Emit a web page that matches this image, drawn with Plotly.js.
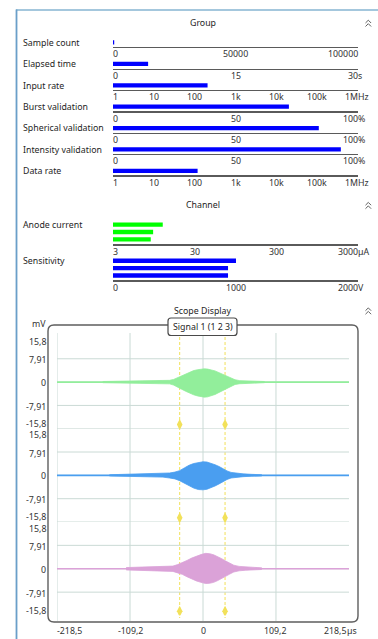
<!DOCTYPE html>
<html><head><meta charset="utf-8">
<script src="https://cdn.plot.ly/plotly-3.0.1.min.js"></script>
<style>html,body{margin:0;padding:0;background:#fff;overflow:hidden}#chart{width:378px;height:639px}</style>
</head><body><div id="chart"></div>
<script>
// ================= DATA =================
const groupTitle = 'Group';
const groupLabels = ['Sample count','Elapsed time','Input rate','Burst validation','Spherical validation','Intensity validation','Data rate'];
const groupValues = [500, 4.3, 207, 71.8, 84, 93, 118];

const countTicks = [0, 50000, 100000];
const countTickText = ['0', '50000', '100000'];
const countUnit = '';
const timeTicks = [0, 15, 30];
const timeTickText = ['0', '15', '30'];
const timeUnit = 's';
const rateTicks = [1, 10, 100, 1000, 10000, 100000, 1000000];
const rateTickText = ['1', '10', '100', '1k', '10k', '100k', '1M'];
const rateUnit = 'Hz';
const pctTicks = [0, 50, 100];
const pctTickText = ['0', '50', '100'];
const pctUnit = '%';

const channelTitle = 'Channel';
const channelLabels = ['Anode current', 'Sensitivity'];
const channelIds = ['1', '2', '3'];
const anodeValues = [12.2, 9.3, 8.7];
const anodeTicks = [3, 30, 300, 3000];
const anodeTickText = ['3', '30', '300', '3000'];
const anodeUnit = 'µA';
const sensValues = [1004, 939, 939];
const sensTicks = [0, 1000, 2000];
const sensTickText = ['0', '1000', '2000'];
const sensUnit = 'V';

const scopeTitle = 'Scope Display';
const signalName = 'Signal 1 (1 2 3)';
const yUnit = 'mV';
const timeRange = [-218.5, 218.5];
const mvRange = [-15.8, 15.8];
const scopeXTicks = [-218.5, -109.2, 0, 109.2, 218.5];
const scopeXTickText = ['-218,5', '-109,2', '0', '109,2', '218,5'];
const scopeXUnit = 'µs';
const mvTicks = [15.8, 7.91, 0, -7.91, -15.8];
const mvTickText = ['15,8', '7,91', '0', '-7,91', '-15,8'];
const cursorTimes = [-34.9, 33.0];
const cursorLevel = -14.4;

// signal envelopes (µs, mV)
const greenT =     [-150,-120,-95,-75,-60,-50,-44,-38,-32,-26,-20,-14,-8,-3,2,7,12,18,24,30,36,42,48,55,65,78,92];
const greenUpper = [0.2,0.25,0.3,0.4,0.45,0.6,0.9,1.5,2.2,2.9,3.5,3.9,4.2,4.4,4.5,4.4,4.2,3.8,3.2,2.6,1.8,1.2,0.8,0.5,0.4,0.3,0.2];
const greenLower = [-0.2,-0.25,-0.3,-0.4,-0.45,-0.6,-1.0,-1.6,-2.4,-3.1,-3.8,-4.3,-4.7,-5.0,-5.1,-5.0,-4.7,-4.2,-3.5,-2.8,-2.0,-1.3,-0.8,-0.55,-0.4,-0.3,-0.2];

const blueT =     [-140,-115,-95,-75,-60,-50,-42,-35,-28,-21,-14,-7,0,6,12,18,24,30,36,42,50,60,72,88];
const blueUpper = [0.2,0.3,0.4,0.5,0.6,0.8,1.1,1.6,2.5,3.4,4.0,4.4,4.6,4.5,4.1,3.6,3.0,2.2,1.5,1.0,0.7,0.5,0.35,0.2];
const blueLower = [-0.2,-0.3,-0.4,-0.5,-0.6,-0.9,-1.2,-1.8,-2.7,-3.6,-4.3,-4.8,-4.9,-4.7,-4.2,-3.6,-2.9,-2.1,-1.4,-0.9,-0.6,-0.45,-0.3,-0.2];

const pinkT =     [-115,-95,-80,-65,-55,-45,-38,-31,-24,-17,-10,-3,4,10,16,22,28,34,40,46,54,64,76,88];
const pinkUpper = [0.4,0.5,0.6,0.6,0.7,0.9,1.4,2.0,2.8,3.6,4.3,4.8,5.2,5.1,4.7,4.1,3.4,2.6,1.9,1.2,0.8,0.6,0.4,0.3];
const pinkLower = [-0.4,-0.5,-0.55,-0.6,-0.7,-0.9,-1.4,-1.9,-2.7,-3.5,-4.1,-4.6,-5.0,-4.9,-4.6,-4.0,-3.2,-2.5,-1.8,-1.1,-0.7,-0.5,-0.35,-0.25];

// ================= LAYOUT HELPERS =================
const W = 378, H = 639;
const X = px => px / W;
const Y = py => 1 - py / H;
const FONT = 'Noto Sans, Open Sans, sans-serif';
const TXT = '#1e1e1e';
const TICK = '#333333';
const FS = 8.8;

const traces = [];
const annotations = [];
const shapes = [];
const layout = {
  width: W, height: H, margin: {l: 0, r: 0, t: 0, b: 0},
  paper_bgcolor: '#ffffff', plot_bgcolor: 'rgba(0,0,0,0)',
  showlegend: false, separators: ',.',
  font: {family: FONT, size: FS, color: TXT},
  annotations, shapes, hovermode: false
};

function ann(o) {
  annotations.push(Object.assign({showarrow: false, borderpad: 0, borderwidth: 0,
    xanchor: 'center', yanchor: 'middle', font: {family: FONT, size: FS, color: TICK}}, o));
}
function txt(text, x, y, opts) {
  ann(Object.assign({text, x, y, xref: 'paper', yref: 'paper', font: {family: FONT, size: FS, color: TXT}}, opts || {}));
}
function pathPx(pts) {
  return pts.map((p, i) => (i ? 'L' : 'M') + X(p[0]).toFixed(5) + ',' + Y(p[1]).toFixed(5)).join(' ');
}
function roundRect(x0, y0, x1, y1, r) {
  const P = (x, y) => X(x).toFixed(5) + ',' + Y(y).toFixed(5);
  return 'M' + P(x0 + r, y0) + ' L' + P(x1 - r, y0) + ' Q' + P(x1, y0) + ' ' + P(x1, y0 + r) +
    ' L' + P(x1, y1 - r) + ' Q' + P(x1, y1) + ' ' + P(x1 - r, y1) +
    ' L' + P(x0 + r, y1) + ' Q' + P(x0, y1) + ' ' + P(x0, y1 - r) +
    ' L' + P(x0, y0 + r) + ' Q' + P(x0, y0) + ' ' + P(x0 + r, y0) + ' Z';
}
function chevron(cx, cy) {
  const c = '#606060';
  shapes.push({type: 'path', xref: 'paper', yref: 'paper', line: {color: c, width: 1},
    path: pathPx([[cx - 2.8, cy - 0.3], [cx, cy - 3.1], [cx + 2.8, cy - 0.3]])});
  shapes.push({type: 'path', xref: 'paper', yref: 'paper', line: {color: c, width: 1},
    path: pathPx([[cx - 2.8, cy + 3.2], [cx, cy + 0.4], [cx + 2.8, cy + 3.2]])});
}
// tick label with number anchored on the tick and the unit hanging to the right
function tickLabels(xr, ticks, texts, unit, isLog, py, lastShift) {
  const n = ticks.length;
  ticks.forEach((t, i) => {
    const base = {xref: xr, yref: 'paper', x: isLog ? Math.log10(t) : t, y: Y(py)};
    if (i === 0) ann(Object.assign(base, {text: texts[i], xanchor: 'left'}));
    else if (i === n - 1) {
      ann(Object.assign({}, base, {text: texts[i], xanchor: 'right', xshift: lastShift || 0}));
      if (unit) ann(Object.assign({}, base, {text: unit, xanchor: 'left', xshift: (lastShift || 0) - 0.3}));
    } else ann(Object.assign(base, {text: texts[i], xanchor: 'center'}));
  });
}

// ================= PANEL FRAME =================
shapes.push({type: 'line', xref: 'paper', yref: 'paper', x0: X(16), x1: X(378), y0: Y(10), y1: Y(10),
  line: {color: '#86b4d2', width: 1.6}});
shapes.push({type: 'line', xref: 'paper', yref: 'paper', x0: X(16.5), x1: X(16.5), y0: Y(9.5), y1: Y(639),
  line: {color: '#6a9fc9', width: 1.8}});

txt(groupTitle, X(202.5), Y(23.3));
chevron(368.3, 23.3);
txt(channelTitle, X(202.5), Y(205));
chevron(368.3, 205.5);
txt(scopeTitle, X(202.5), Y(310.5));
chevron(368.3, 311);

// ================= BAR ROWS =================
const AX0 = 113, AX1 = 358;
let axisIdx = 0;
function addBarRow(cfg) {
  axisIdx++;
  const sfx = axisIdx === 1 ? '' : String(axisIdx);
  const xr = 'x' + sfx, yr = 'y' + sfx;
  const isLog = cfg.type === 'log';
  traces.push({
    type: 'bar', orientation: 'h', x: cfg.values, y: cfg.cats,
    xaxis: xr, yaxis: yr, width: cfg.barW,
    marker: {color: cfg.color, line: {width: 0}}, hoverinfo: 'skip'
  });
  layout['xaxis' + sfx] = {
    domain: [X(AX0), X(AX1)], anchor: yr, type: cfg.type,
    range: isLog ? cfg.range.map(Math.log10) : cfg.range,
    showline: true, linecolor: '#5a5a5a', linewidth: 1.3,
    showgrid: false, zeroline: false, showticklabels: false, ticks: '', fixedrange: true
  };
  layout['yaxis' + sfx] = {
    domain: [Y(cfg.bottom), Y(cfg.top)], anchor: xr, type: 'category',
    range: cfg.yrange, visible: false, fixedrange: true
  };
  txt(cfg.label, X(23), Y(cfg.labelY), {xanchor: 'left'});
  tickLabels(xr, cfg.ticks, cfg.tickText, cfg.unit, isLog, cfg.bottom + 7.3, 0);
}

const BLUE = '#0000ff', GREEN = '#00ff00';
const groupAxisY = [47, 68.5, 90, 111.3, 132.7, 154, 175.4];
const groupScales = [
  {type: 'linear', range: [0, 100000], ticks: countTicks, tickText: countTickText, unit: countUnit},
  {type: 'linear', range: [0, 30], ticks: timeTicks, tickText: timeTickText, unit: timeUnit},
  {type: 'log', range: [1, 1000000], ticks: rateTicks, tickText: rateTickText, unit: rateUnit},
  {type: 'linear', range: [0, 100], ticks: pctTicks, tickText: pctTickText, unit: pctUnit},
  {type: 'linear', range: [0, 100], ticks: pctTicks, tickText: pctTickText, unit: pctUnit},
  {type: 'linear', range: [0, 100], ticks: pctTicks, tickText: pctTickText, unit: pctUnit},
  {type: 'log', range: [1, 1000000], ticks: rateTicks, tickText: rateTickText, unit: rateUnit}
];
groupLabels.forEach((lab, i) => {
  const ay = groupAxisY[i];
  addBarRow(Object.assign({
    label: lab, labelY: ay - 4.3, values: [groupValues[i]], cats: [lab],
    bottom: ay, top: ay - 9.2, yrange: [-0.5, 0.5], barW: 0.47, color: BLUE
  }, groupScales[i]));
});

addBarRow({
  label: channelLabels[0], labelY: 225, values: anodeValues, cats: channelIds,
  bottom: 244.3, top: 221.05, yrange: [2.685, -0.5], barW: 0.59, color: GREEN,
  type: 'log', range: [3, 3000], ticks: anodeTicks, tickText: anodeTickText, unit: anodeUnit
});
addBarRow({
  label: channelLabels[1], labelY: 260.7, values: sensValues, cats: channelIds,
  bottom: 280.3, top: 257.1, yrange: [2.653, -0.5], barW: 0.59, color: BLUE,
  type: 'linear', range: [0, 2000], ticks: sensTicks, tickText: sensTickText, unit: sensUnit
});

// ================= SCOPE =================
const PX0 = 57, PX1 = 349;
const subDomains = [[335.5, 428.7], [428.7, 522], [522, 615.5]];
const sigs = [
  {t: greenT, up: greenUpper, lo: greenLower, color: '#92ee9b'},
  {t: blueT, up: blueUpper, lo: blueLower, color: '#4a9ef0'},
  {t: pinkT, up: pinkUpper, lo: pinkLower, color: '#dba2d8'}
];
const YELLOW = '#f2e15a';
const GRID = '#cadad5';

shapes.push({type: 'path', xref: 'paper', yref: 'paper', layer: 'above',
  path: roundRect(48, 325, 358, 622, 6), line: {color: '#5e5e5e', width: 1.4}});

layout.xaxis10 = {
  domain: [X(PX0), X(PX1)], anchor: 'y12', range: timeRange,
  showline: false, showgrid: false, zeroline: false, showticklabels: false, ticks: '', fixedrange: true
};
scopeXTicks.slice(0, -1).forEach(t => {
  shapes.push({type: 'line', layer: 'below', xref: 'x10', yref: 'paper', x0: t, x1: t, y0: Y(333), y1: Y(621),
    line: {color: GRID, width: 1}});
});
cursorTimes.forEach(t => {
  shapes.push({type: 'line', layer: 'below', xref: 'x10', yref: 'paper', x0: t, x1: t, y0: Y(337), y1: Y(618),
    line: {color: YELLOW, width: 1, dash: '3px,2px'}});
});

const ySh = {'15.8': -6.5, '7.91': -1.5, '0': -1, '-7.91': -1.5, '-15.8': 5};
sigs.forEach((s, k) => {
  const sfx = String(10 + k);
  const yr = 'y' + sfx;
  const d = subDomains[k];
  layout['yaxis' + sfx] = {
    domain: [Y(d[1]), Y(d[0])], anchor: 'x10', range: mvRange,
    showline: false, showgrid: false, zeroline: false, showticklabels: false, ticks: '', fixedrange: true
  };
  mvTicks.forEach(v => {
    if (v === mvTicks[0]) return;
    if (k === 2 && v === mvTicks[mvTicks.length - 1]) return;
    shapes.push({type: 'line', layer: 'below', xref: 'paper', yref: yr, x0: X(PX0), x1: X(PX1), y0: v, y1: v,
      line: {color: GRID, width: 1}});
  });
  traces.push({type: 'scatter', mode: 'lines', x: timeRange, y: [0, 0], xaxis: 'x10', yaxis: yr,
    line: {color: s.color, width: 1.6}, hoverinfo: 'skip'});
  traces.push({type: 'scatter', mode: 'lines', x: s.t, y: s.up, xaxis: 'x10', yaxis: yr,
    line: {color: s.color, width: 0.8}, hoverinfo: 'skip'});
  traces.push({type: 'scatter', mode: 'lines', x: s.t, y: s.lo, xaxis: 'x10', yaxis: yr,
    line: {color: s.color, width: 0.8}, fill: 'tonexty', fillcolor: s.color, hoverinfo: 'skip'});
  traces.push({type: 'scatter', mode: 'markers', x: cursorTimes, y: cursorTimes.map(() => cursorLevel),
    xaxis: 'x10', yaxis: yr, marker: {symbol: 'diamond-tall', size: 8, color: YELLOW}, hoverinfo: 'skip'});
  mvTicks.forEach((v, i) => {
    ann({text: mvTickText[i], xref: 'paper', yref: yr, x: X(46), y: v, xanchor: 'right',
      yshift: ySh[String(v)]});
  });
});
txt(yUnit, X(46), Y(324), {xanchor: 'right', font: {family: FONT, size: FS, color: TICK}});

tickLabels('x10', scopeXTicks, scopeXTickText, scopeXUnit, false, 631, -2);

shapes.push({type: 'path', xref: 'paper', yref: 'paper', layer: 'above',
  path: roundRect(168, 318, 237, 335.5, 3), line: {color: '#4a4a4a', width: 1.2}, fillcolor: '#ffffff'});
txt(signalName, X(202.5), Y(327));

Plotly.newPlot('chart', traces, layout, {staticPlot: true, displayModeBar: false});
</script>
</body></html>
